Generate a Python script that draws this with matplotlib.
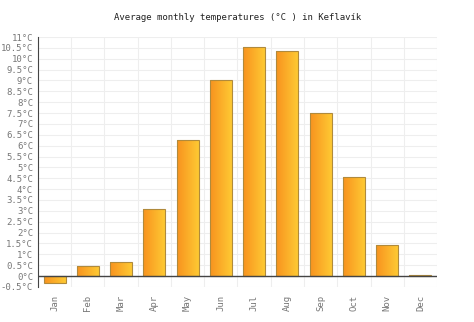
import numpy as np
import matplotlib.pyplot as plt
from matplotlib.patches import Rectangle
from matplotlib.colors import LinearSegmentedColormap

# data
months = ['Jan', 'Feb', 'Mar', 'Apr', 'May', 'Jun', 'Jul', 'Aug', 'Sep', 'Oct', 'Nov', 'Dec']
temps = [-0.3, 0.45, 0.65, 3.1, 6.25, 9.0, 10.55, 10.35, 7.5, 4.55, 1.45, 0.05]
yticks = np.arange(-0.5, 11.01, 0.5)

plt.rcParams['font.family'] = ['DejaVu Sans Mono']

fig = plt.figure(figsize=(4.74, 3.22), dpi=100)
ax = fig.add_axes([0.080, 0.109, 0.842, 0.776])

x = np.arange(len(months))
w = 0.66
bars = ax.bar(x, temps, width=w, color='none', edgecolor='#b08a3c', linewidth=0.8, zorder=3)

# gradient fill orange -> yellow
grad = np.linspace(0, 1, 64).reshape(1, -1)
cmap = LinearSegmentedColormap.from_list('oy', ['#f8931f', '#fec933'])
for b in bars:
    x0, y0 = b.get_x(), b.get_y()
    bw, bh = b.get_width(), b.get_height()
    im = ax.imshow(grad, cmap=cmap, aspect='auto', extent=[x0, x0 + bw, y0, y0 + bh], zorder=2)
    im.set_clip_path(Rectangle((x0, y0), bw, bh, transform=ax.transData))

ax.set_xlim(-0.5, len(months) - 0.5)
ax.set_ylim(-0.5, 11)
ax.set_yticks(yticks)
ax.set_yticklabels([('%g' % v) + '°C' for v in yticks])
ax.set_xticks(x)
ax.set_xticklabels(months, rotation=90)
ax.set_xticks(np.arange(-0.5, len(months), 1), minor=True)

ax.tick_params(axis='both', which='both', labelsize=6.5, colors='#777777', length=0)
ax.tick_params(axis='x', pad=6)
ax.grid(True, which='major', axis='y', color='#eeeeee', linewidth=0.8, zorder=0)
ax.grid(True, which='minor', axis='x', color='#eeeeee', linewidth=0.8, zorder=0)
for s in ['top', 'right', 'bottom']:
    ax.spines[s].set_visible(False)
ax.spines['left'].set_color('#444444')
ax.axhline(0, color='#444444', linewidth=1, zorder=4)

ax.set_title('Average monthly temperatures (°C ) in Keflavík', fontsize=6.5, color='#222222', pad=12)

fig.savefig('out.png', dpi=100)
